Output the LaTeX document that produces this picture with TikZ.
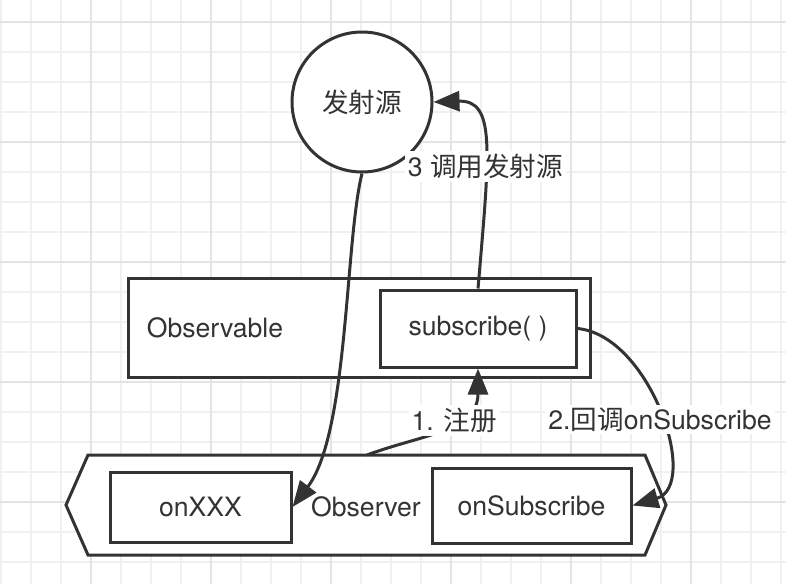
\documentclass[tikz,border=0pt]{standalone}
\usepackage{fontspec}
\setmainfont{TeX Gyre Heros}
\newfontfamily\cjk{Noto Sans CJK SC}
\usepackage{xcolor}
\usetikzlibrary{arrows.meta,positioning}

\definecolor{ink}{HTML}{333333}
\definecolor{gridminor}{HTML}{F0F0F0}
\definecolor{gridmajor}{HTML}{E4E4E4}

\begin{document}
\begin{tikzpicture}[
  x=0.5pt, y=-0.5pt,
  >={Triangle[length=13pt,width=10pt]},
  every node/.style={font=\fontsize{13.3}{16}\selectfont, text=ink},
  box/.style={rectangle, draw=ink, line width=1.5pt, fill=white},
  emitter/.style={circle, draw=ink, line width=1.5pt, fill=white,
    minimum size=70pt},
  arr/.style={->, draw=ink, line width=1.5pt},
  lbl/.style={fill=white, inner sep=1.5pt},
  minor/.style={draw=gridminor, line width=1pt},
  major/.style={draw=gridmajor, line width=1pt},
]

% === Background grid ===
\fill[white] (0,0) rectangle (786,584);
\useasboundingbox (0,0) rectangle (786,584);
\foreach \gx in {1,31,...,781} \draw[minor] (\gx,0) -- (\gx,584);
\foreach \gy in {22,52,...,562} \draw[minor] (0,\gy) -- (786,\gy);
\foreach \gx in {91,211,...,691} \draw[major] (\gx,0) -- (\gx,584);
\foreach \gy in {22,142,...,502} \draw[major] (0,\gy) -- (786,\gy);

% === Observable ===
\node[box, minimum width=231pt, minimum height=49.5pt] (observable) at (359,327.5) {};
\node (obslabel) at (215,328) {Observable};
\node[box, minimum width=98pt, minimum height=38.5pt] (subscribe) at (478,328.5) {subscribe( )};

% === Observer ===
\draw[box] (88,455) -- (645,455) -- (666,505) -- (645,555) -- (88,555) -- (66,505) -- cycle;
\coordinate (obstop) at (367,455);
\node (observer) at (366,507) {Observer};
\node[box, minimum width=90.5pt, minimum height=35pt] (onxxx) at (200.5,507) {onXXX};
\node[box, minimum width=99.5pt, minimum height=37.5pt] (onsubscribe) at (531.5,505.5) {onSubscribe};

% === Source ===
\node[emitter] (source) at (362,102) {\cjk 发射源};

% === Arrows ===
\draw[arr] (source.south) .. controls +(-17,68) and +(56,-74) .. (onxxx.east);
\draw[arr] (subscribe.north) .. controls +(12,-140) and +(62,-2) ..
  node[lbl, pos=0.38] {3 {\cjk 调用发射源}} (source.east);
\draw[arr] (obstop) .. controls +(53,-20) and +(0,63) ..
  node[lbl, pos=0.6] {1. {\cjk 注册}} (subscribe.south);
\draw[arr] (subscribe.east) .. controls +(73,7) and +(68,-20) ..
  node[lbl, pos=0.53] {2.{\cjk 回调}onSubscribe} (onsubscribe.east);

\end{tikzpicture}
\end{document}
